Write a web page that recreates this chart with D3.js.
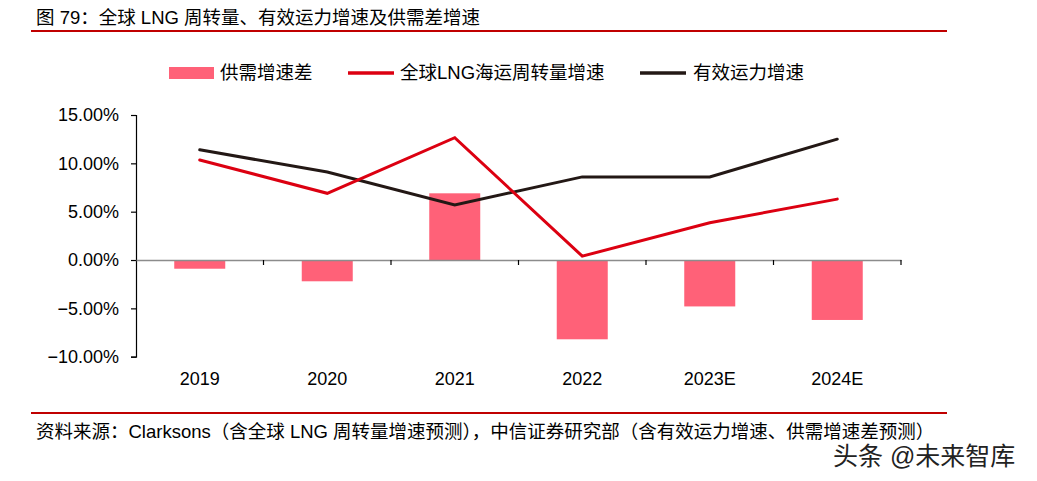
<!DOCTYPE html>
<html><head><meta charset="utf-8">
<script src="https://cdn.jsdelivr.net/npm/d3@7/dist/d3.min.js"></script>
<style>
html,body{margin:0;padding:0;background:#fff;}
svg{display:block;font-family:"Liberation Sans",Arial,"Noto Sans CJK SC",sans-serif;}
</style></head>
<body><svg id="c" width="1037" height="481"></svg>
<script>
const categories = ["2019","2020","2021","2022","2023E","2024E"];
const gapValues = [-0.9, -2.2, 6.9, -8.2, -4.8, -6.2];
const turnoverGrowth = [10.35, 6.9, 12.65, 0.4, 3.85, 6.3];
const capacityGrowth = [11.4, 9.1, 5.7, 8.6, 8.6, 12.5];
const yTicks = [-10, -5, 0, 5, 10, 15];
const legendLabels = ["供需增速差", "全球LNG海运周转量增速", "有效运力增速"];
const titleText = "图 79：全球 LNG 周转量、有效运力增速及供需差增速";
const sourceText = "资料来源：Clarksons（含全球 LNG 周转量增速预测），中信证券研究部（含有效运力增速、供需增速差预测）";
const watermarkText = "头条 @未来智库";

const barColor = "#ff6178", redColor = "#dc0011", blackColor = "#231815", ruleColor = "#c00000";
const svg = d3.select("#c");

// title
svg.append("text").attr("x", 36).attr("y", 24).attr("font-size", 18.5).attr("fill", "#000").text(titleText);
svg.append("line").attr("x1", 31).attr("x2", 947).attr("y1", 31).attr("y2", 31).attr("stroke", ruleColor).attr("stroke-width", 2);

// scales
const x = d3.scaleBand().domain(categories).range([136, 901]).paddingInner(0).paddingOuter(0);
const y = d3.scaleLinear().domain([-10, 15]).range([356.7, 115]);
const bw = x.bandwidth() * 0.4;

// y axis
const yAxis = svg.append("g").attr("transform", "translate(136,0)")
  .call(d3.axisLeft(y).tickValues(yTicks).tickSize(5).tickPadding(12).tickFormat(d => d3.format(".2f")(d) + "%"));
yAxis.select(".domain").attr("stroke", "#000").attr("stroke-width", 1.2);
yAxis.selectAll(".tick line").attr("stroke", "#000").attr("stroke-width", 1.2);
yAxis.selectAll("text").attr("font-size", 18).attr("fill", "#000").attr("font-family", "'Liberation Sans',Arial,sans-serif");

// bars
svg.append("g").selectAll("rect").data(categories).join("rect")
  .attr("x", (d) => x(d) + (x.bandwidth() - bw) / 2)
  .attr("width", bw)
  .attr("y", (d, i) => y(Math.max(0, gapValues[i])))
  .attr("height", (d, i) => Math.abs(y(gapValues[i]) - y(0)))
  .attr("fill", barColor);

// x axis at zero
const xAxis = svg.append("g").attr("transform", `translate(0,${y(0)})`)
  .call(d3.axisBottom(x).tickSize(0).tickFormat(""));
xAxis.select(".domain").attr("stroke", "#8c8c8c").attr("stroke-width", 1.5);
const bounds = categories.map(c => x(c)).concat([x.range()[1]]).slice(1);
svg.append("g").selectAll("line").data(bounds).join("line")
  .attr("x1", d => d).attr("x2", d => d).attr("y1", y(0)).attr("y2", y(0) + 5)
  .attr("stroke", "#000").attr("stroke-width", 1.2);

// category labels
svg.append("g").selectAll("text").data(categories).join("text")
  .attr("x", d => x(d) + x.bandwidth() / 2).attr("y", 385)
  .attr("text-anchor", "middle").attr("font-size", 18).attr("fill", "#000").text(d => d);

// lines
const line = d3.line().x((d, i) => x(categories[i]) + x.bandwidth() / 2).y(d => y(d));
svg.append("path").datum(capacityGrowth).attr("d", line).attr("fill", "none")
  .attr("stroke", blackColor).attr("stroke-width", 3).attr("stroke-linecap", "round");
svg.append("path").datum(turnoverGrowth).attr("d", line).attr("fill", "none")
  .attr("stroke", redColor).attr("stroke-width", 3).attr("stroke-linecap", "round");

// legend
const lg = svg.append("g").attr("font-size", 18.5);
lg.append("rect").attr("x", 169).attr("y", 67).attr("width", 45).attr("height", 12).attr("fill", barColor);
lg.append("text").attr("x", 220).attr("y", 79).text(legendLabels[0]);
lg.append("line").attr("x1", 348).attr("x2", 394).attr("y1", 73).attr("y2", 73).attr("stroke", redColor).attr("stroke-width", 3.5);
lg.append("text").attr("x", 400).attr("y", 79).text(legendLabels[1]);
lg.append("line").attr("x1", 640).attr("x2", 686).attr("y1", 73).attr("y2", 73).attr("stroke", blackColor).attr("stroke-width", 3.5);
lg.append("text").attr("x", 693).attr("y", 79).text(legendLabels[2]);

// footer
svg.append("line").attr("x1", 31).attr("x2", 947).attr("y1", 413).attr("y2", 413).attr("stroke", ruleColor).attr("stroke-width", 2);
svg.append("text").attr("x", 36).attr("y", 438).attr("font-size", 18.5).attr("fill", "#000").text(sourceText);

// watermark
svg.append("text").attr("x", 833).attr("y", 465).attr("font-size", 25).attr("fill", "#222")
  .attr("stroke", "#fff").attr("stroke-width", 2).attr("paint-order", "stroke").text(watermarkText);
</script></body></html>
